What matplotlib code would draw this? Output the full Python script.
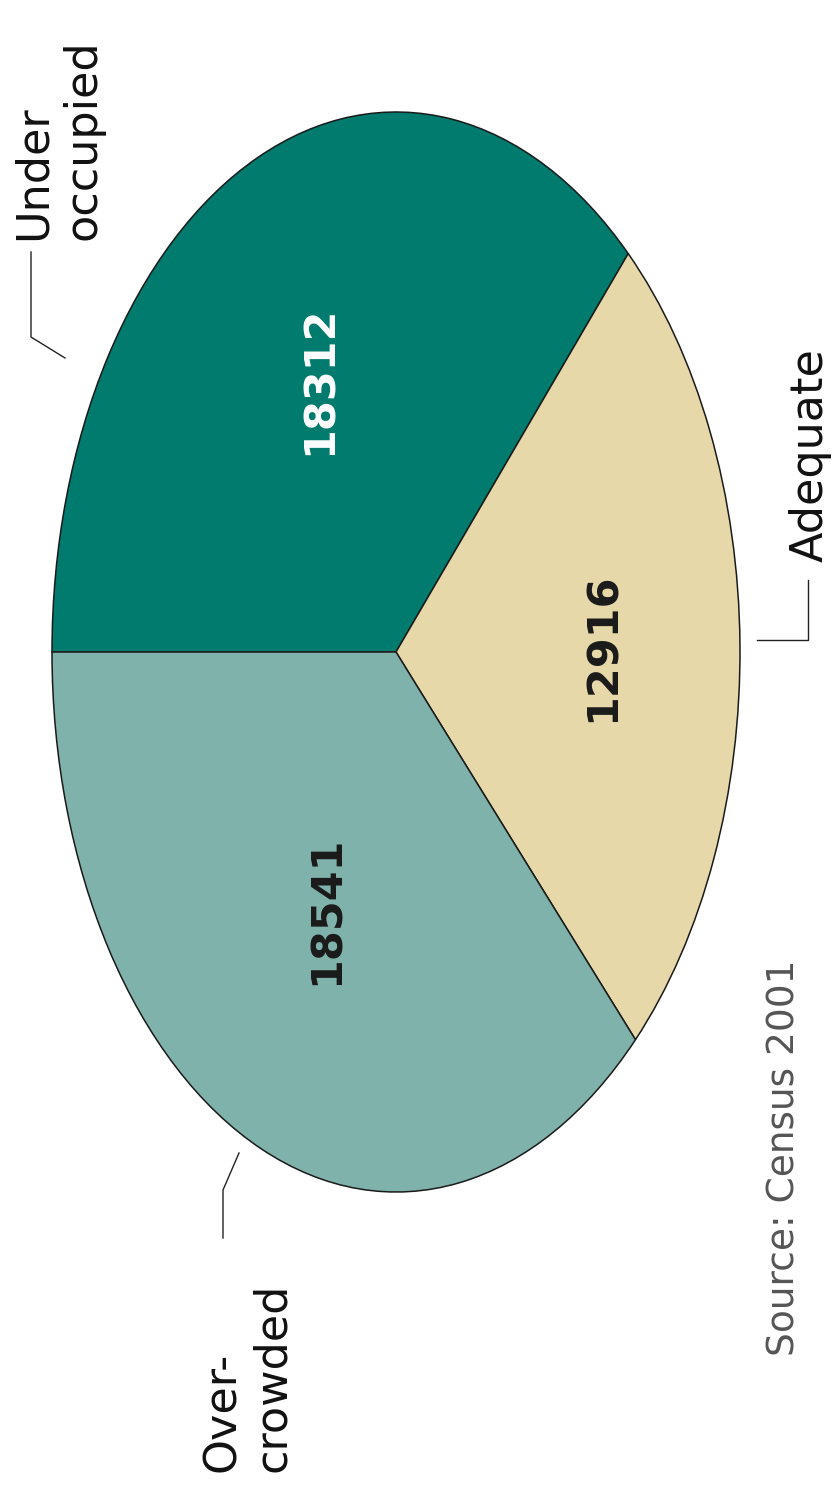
import matplotlib
matplotlib.use("Agg")
import matplotlib.pyplot as plt
from matplotlib.lines import Line2D
import numpy as np

# data
categories = ["Under\noccupied", "Adequate", "Over-\ncrowded"]
values = [18312, 12916, 18541]
colors = ["#007b6d", "#e6d8a9", "#7fb2ab"]
num_colors = ["white", "#1a1a1a", "#1a1a1a"]
source = "Source: Census 2001"

W, H = 838, 1492
fig = plt.figure(figsize=(W / 100, H / 100), dpi=100)

def fx(x):
    return x / W

def fy(y):
    return 1 - y / H

# ellipse bounds in pixels
L, R, T, B = 52, 740, 112, 1192
ax = fig.add_axes([fx(L), fy(B), (R - L) / W, (B - T) / H])

wedges, texts, autotexts = ax.pie(
    values, colors=colors, startangle=180, counterclock=False,
    autopct=lambda p: "", pctdistance=0.53,
    wedgeprops=dict(edgecolor="#1a1a1a", linewidth=1.1, clip_on=False))
ax.set_aspect("auto")
ax.set_xlim(-1, 1)
ax.set_ylim(-1, 1)
ax.axis("off")

dist = [0.55, 0.60, 0.52]
for w, t, v, c, d in zip(wedges, autotexts, values, num_colors, dist):
    mid = np.deg2rad((w.theta1 + w.theta2) / 2)
    t.set_position((d * np.cos(mid), d * np.sin(mid)))
    t.set_text(str(v))
    t.set_rotation(90)
    t.set_color(c)
    t.set_fontsize(31)
    t.set_fontweight("bold")
    t.set_family("DejaVu Sans")
    t.set_ha("center")
    t.set_va("center")

# labels, rotated
lab_font = dict(family="DejaVu Sans", fontsize=32, color="#111111", rotation=90,
                rotation_mode="anchor", ha="left", va="top", linespacing=1.2,
                multialignment="left")
fig.text(fx(12), fy(240), categories[0], **lab_font)
fig.text(fx(789), fy(562), categories[1], **lab_font)
fig.text(fx(201), fy(1472), categories[2], **lab_font)

fig.text(fx(766), fy(1356), source, family="DejaVu Sans", fontsize=27,
         color="#555555", rotation=90, rotation_mode="anchor",
         ha="left", va="top")

# leader lines
leaders = [
    ([31, 31, 65], [252, 337, 358]),
    ([808, 808, 757], [580, 640, 640]),
    ([239, 223, 223], [1153, 1190, 1238]),
]
for xs, ys in leaders:
    fig.add_artist(Line2D([fx(x) for x in xs], [fy(y) for y in ys],
                          color="#222222", linewidth=1.0))

fig.savefig("out.png", dpi=100)
